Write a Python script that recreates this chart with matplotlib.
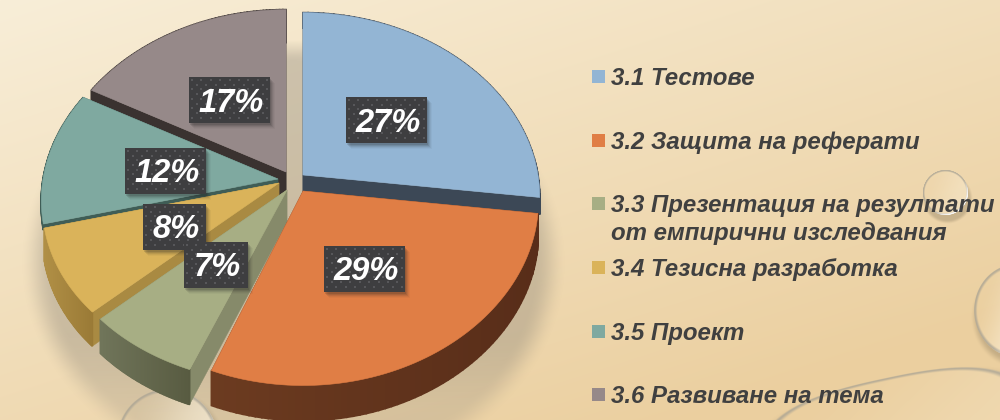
import numpy as np
import matplotlib
matplotlib.use("Agg")
import matplotlib.pyplot as plt
from matplotlib.patches import Polygon, Rectangle
from matplotlib.colors import to_rgb

categories = ["3.1 Тестове", "3.2 Защита на реферати",
              "3.3 Презентация на резултати\nот емпирични изследвания",
              "3.4 Тезисна разработка", "3.5 Проект", "3.6 Развиване на тема"]
values = [27, 29, 7, 8, 12, 17]
labels = ["27%", "29%", "7%", "8%", "12%", "17%"]

top_colors = ["#93b5d4", "#e07e45", "#a7ae84", "#dab35a", "#7fa9a0", "#968989"]
face_colors = ["#3c4856", "#5a2e1a", "#868a6a", "#a98a42", "#3f5d56", "#3a3230"]
rim_left = ["#3c4856", "#6c3b20", "#70755a", "#b08f45", "#3f5d56", "#3a3230"]
rim_right = ["#3c4856", "#582d19", "#585b41", "#9a7a36", "#3f5d56", "#3a3230"]
apex_x = [303, 303, 287, 279, 278, 286]
apex_y = [175, 191, 190, 183, 179, 172]
depths = [17, 32, 32, 32, 6, 36]
persp_x = [0.12, 0.06, 0.12, 0.12, 0.12, 0.12]
box_x = [386.5, 364.5, 216, 174.5, 165.5, 229.5]
box_y = [120, 269, 265, 227, 171, 100]
box_w = [81, 81, 64, 63, 81, 81]
draw_order = [5, 4, 0, 3, 2, 1]
label_order = [0, 5, 4, 1, 3, 2]

R, A, KY = 235, 177, 0.09


def project(x0, y0, theta, depth, kx):
    X, Y = np.sin(theta), np.cos(theta)
    return (x0 + R * X / (1 + kx * Y), y0 - A * Y / (1 + KY * Y), depth / (1 + KY * Y))


def smooth(a, b, v):
    u = np.clip((v - a) / (b - a), 0, 1)
    return u * u * (3 - 2 * u)


fig = plt.figure(figsize=(10, 4.2), dpi=100)
ax = fig.add_axes([0, 0, 1, 1])
ax.set_xlim(0, 1000)
ax.set_ylim(420, 0)
ax.axis("off")

# background gradient
yy, xx = np.mgrid[0:420, 0:1000]
t = np.clip((xx / 1000 * 0.5 + yy / 420 * 0.65), 0, 1)[..., None]
c0, c1 = np.array(to_rgb("#f8eed8")), np.array(to_rgb("#ebcf9f"))
ax.imshow(c0 * (1 - t) + c1 * t, extent=(0, 1000, 420, 0), aspect="auto", zorder=0)


def overlay(rgb, alpha, zorder):
    im = np.zeros((420, 1000, 4))
    im[..., :3] = to_rgb(rgb)
    im[..., 3] = np.clip(alpha, 0, 1)
    ax.imshow(im, extent=(0, 1000, 420, 0), aspect="auto", zorder=zorder)


# soft pie shadow
d = np.sqrt(((xx - 293) / 268) ** 2 + ((yy - 262) / 222) ** 2)
overlay("#857f74", (1 - smooth(0.9, 1.02, d)) * 0.36 * smooth(0, 1, (yy - 38) / 5)
        * (1 - smooth(330, 420, yy) * 0.4), 1)


# water droplets: soft shadow, interior glow and glassy rim
def glass(cx, cy, rx, ry, ang, glow, rim_width, sharp=2.0):
    a = np.deg2rad(ang)

    def norm(ox, oy):
        u = (xx - cx - ox) * np.cos(a) + (yy - cy - oy) * np.sin(a)
        v = -(xx - cx - ox) * np.sin(a) + (yy - cy - oy) * np.cos(a)
        return (np.abs(u / rx) ** sharp + np.abs(v / ry) ** sharp) ** (1 / sharp)

    dd = norm(0, 0)
    overlay("#6f624a", (1 - smooth(0.92, 1.12, norm(2, 6))) * 0.3 * smooth(0.95, 1.0, dd), 1.2)
    inside = 1 - smooth(0.97, 1.0, dd)
    overlay("#fff9e8", inside * glow * smooth(-1.0, 0.9, (xx - cx) / rx + (yy - cy) / ry * 0.4), 1.3)
    ring = inside * smooth(1 - rim_width, 1 - rim_width * 0.35, dd)
    overlay("#a9a394", ring * 0.75, 1.35)
    hi = ring * smooth(0.15, 0.8, ((xx - cx) / rx + (yy - cy) / ry) / 1.4)
    overlay("#ffffff", hi * 0.9, 1.4)


glass(945, 192, 23, 23, 0, 0.28, 0.12)
glass(1016, 310, 43, 47, 0, 0.85, 0.1)
glass(167, 440, 51, 52, 0, 0.55, 0.09)
glass(895, 428, 135, 52, -12, 0.22, 0.08, 2.6)

# exploded perspective pie, slices drawn from the values
fracs = np.array(values, dtype=float) / sum(values)
edges = np.concatenate([[0], np.cumsum(fracs)]) * 2 * np.pi
z = 2.0
for i in draw_order:
    th = np.linspace(edges[i], edges[i + 1], 70)
    px, py, pd = project(apex_x[i], apex_y[i], th, depths[i], persp_x[i])
    x0, y0 = apex_x[i], apex_y[i]
    for e in (0, -1):
        ax.add_patch(Polygon([(x0, y0), (px[e], py[e]), (px[e], py[e] + pd[e]), (x0, y0 + depths[i])],
                             closed=True, fc=face_colors[i], ec=face_colors[i], lw=0.3, zorder=z))
    z += 0.01
    ca, cb = np.array(to_rgb(rim_left[i])), np.array(to_rgb(rim_right[i]))
    xs = px.min(), px.max()
    for j in range(len(th) - 1):
        f = ((px[j] + px[j + 1]) / 2 - xs[0]) / (xs[1] - xs[0])
        col = ca * (1 - f) + cb * f
        ax.add_patch(Polygon([(px[j], py[j]), (px[j + 1], py[j + 1]),
                              (px[j + 1], py[j + 1] + pd[j + 1]), (px[j], py[j] + pd[j])],
                             closed=True, fc=col, ec=col, lw=1.2, zorder=z))
    z += 0.01
    ax.add_patch(Polygon(np.column_stack([np.r_[x0, px], np.r_[y0, py]]), closed=True,
                         fc=top_colors[i], ec=top_colors[i], lw=0.4, zorder=z))
    z += 0.01

# data labels with dotted dark boxes
for n, i in enumerate(label_order):
    w, h = box_w[i], 46
    x, y = box_x[i] - w / 2, box_y[i] - h / 2
    zz = 5 + n * 0.1
    for o, a in ((8, 0.04), (6.5, 0.06), (5, 0.09), (3.5, 0.12), (2, 0.15)):
        ax.add_patch(Rectangle((x + o * 0.6, y + o * 0.8), w, h, fc="#222222", alpha=a, ec="none", zorder=zz))
    ax.add_patch(Rectangle((x, y), w, h, fc="#3e3e40", ec="none", zorder=zz + 0.01))
    gx, gy = [], []
    for r, dot_y in enumerate(np.arange(y + 3, y + h - 1, 4.7)):
        for dot_x in np.arange(x + 3 + (r % 2) * 4.7, x + w - 1, 9.4):
            gx.append(dot_x)
            gy.append(dot_y)
    ax.scatter(gx, gy, s=2.2, marker="s", color="#57575a", linewidths=0, zorder=zz + 0.02)
    ax.text(box_x[i] + 1.5, box_y[i] + 3, labels[i], ha="center", va="center", color="white", fontsize=23.5,
            family="Liberation Sans", weight="bold", style="italic", zorder=zz + 0.05)

# legend
row_y = [76.5, 140, 203.5, 267.5, 331.5, 394.5]
font = dict(color="#404040", fontsize=17.3, family="Liberation Sans", weight="bold", style="italic",
            zorder=6, ha="left", linespacing=1.0)
for i, name in enumerate(categories):
    ax.add_patch(Rectangle((592, row_y[i] - 6.5), 13, 13, fc=top_colors[i], ec="none", zorder=6))
    first, *rest = name.split("\n")
    ax.text(611, row_y[i] + 8.5, first, va="baseline", **font)
    for line in rest:
        ax.text(611, row_y[i] + 36.5, line, va="baseline", **font)

fig.savefig("out.png", dpi=100)
